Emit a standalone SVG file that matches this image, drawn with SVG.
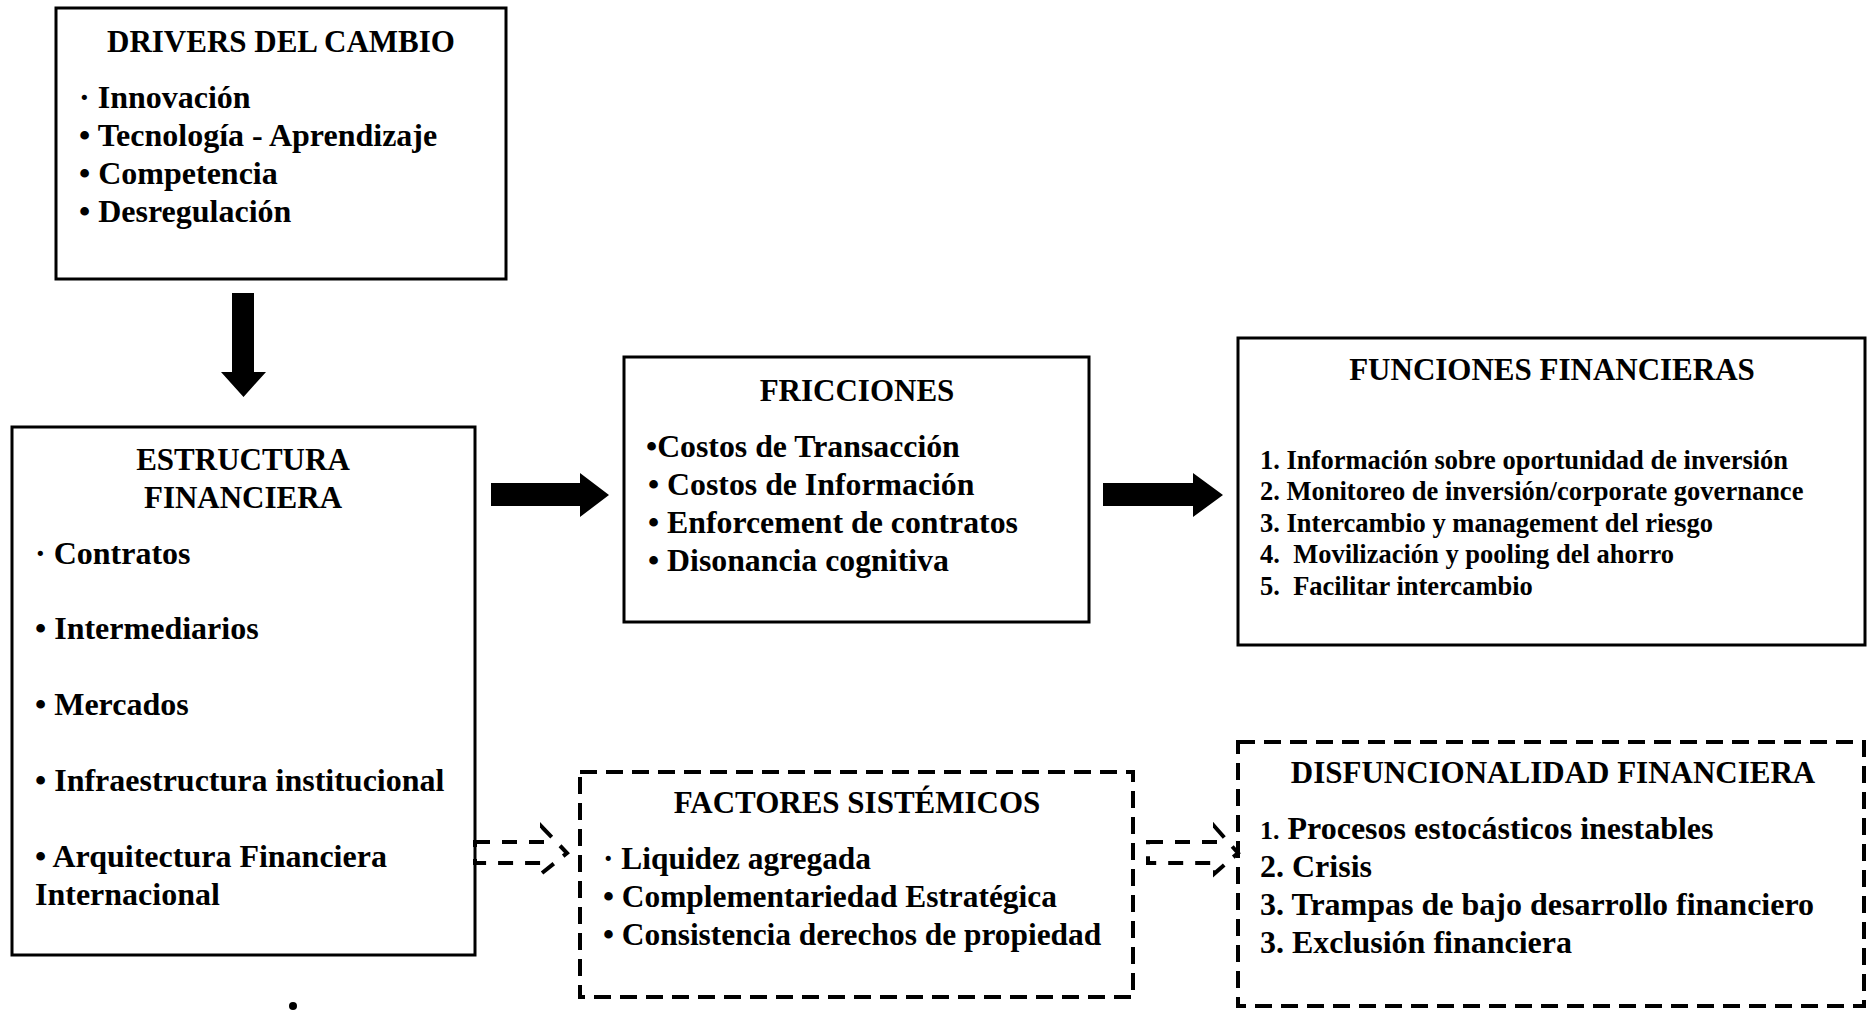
<svg xmlns="http://www.w3.org/2000/svg" width="1868" height="1010" viewBox="0 0 1868 1010">
<style>
text{font-family:"Liberation Serif","Times New Roman",serif;font-weight:bold;fill:#000}
.t{font-size:31px;text-anchor:middle}
.i{font-size:32px}
.f{font-size:31.8px}
.g{font-size:31.4px}
.s{font-size:26.5px}
.box{fill:#fff;stroke:#000;stroke-width:3}
.dbox{fill:#fff;stroke:#000;stroke-width:4;stroke-dasharray:17 9}
.blk{fill:#000;stroke:none}
.darr{fill:none;stroke:#000;stroke-width:4;stroke-dasharray:15 12}
</style>
<rect width="1868" height="1010" fill="#fff"/>
<g id="drivers">
<rect class="box" x="56" y="8" width="450" height="271"/>
<text class="t" x="281" y="52">DRIVERS DEL CAMBIO</text>
<text class="i" x="79" y="108">· Innovación</text>
<text class="i" x="79" y="146">• Tecnología - Aprendizaje</text>
<text class="i" x="79" y="184">• Competencia</text>
<text class="i" x="79" y="222">• Desregulación</text>
</g>
<g id="estructura">
<rect class="box" x="12" y="427" width="463" height="528"/>
<text class="t" x="243" y="470">ESTRUCTURA</text>
<text class="t" x="243" y="508">FINANCIERA</text>
<text class="i" x="35" y="564">· Contratos</text>
<text class="i" x="35" y="639">• Intermediarios</text>
<text class="i" x="35" y="715">• Mercados</text>
<text class="i" x="35" y="791">• Infraestructura institucional</text>
<text class="i" x="35" y="867">• Arquitectura Financiera</text>
<text class="i" x="35" y="905">Internacional</text>
</g>
<g id="fricciones">
<rect class="box" x="624" y="357" width="465" height="265"/>
<text class="t" x="857" y="401">FRICCIONES</text>
<text class="f" x="646" y="457">•Costos de Transacción</text>
<text class="f" x="648" y="495">• Costos de Información</text>
<text class="f" x="648" y="533">• Enforcement de contratos</text>
<text class="f" x="648" y="571">• Disonancia cognitiva</text>
</g>
<g id="funciones">
<rect class="box" x="1238" y="338" width="627" height="307"/>
<text class="t" x="1552" y="380">FUNCIONES FINANCIERAS</text>
<text class="s" x="1260" y="469">1. Información sobre oportunidad de inversión</text>
<text class="s" x="1260" y="500">2. Monitoreo de inversión/corporate governance</text>
<text class="s" x="1260" y="532">3. Intercambio y management del riesgo</text>
<text class="s" x="1260" y="563" xml:space="preserve">4.  Movilización y pooling del ahorro</text>
<text class="s" x="1260" y="595" xml:space="preserve">5.  Facilitar intercambio</text>
</g>
<g id="factores">
<rect class="dbox" x="580" y="772" width="553" height="225"/>
<text class="t" x="857" y="813">FACTORES SISTÉMICOS</text>
<text class="g" x="603" y="869">· Liquidez agregada</text>
<text class="g" x="603" y="907">• Complementariedad Estratégica</text>
<text class="g" x="603" y="945">• Consistencia derechos de propiedad</text>
</g>
<g id="disfuncionalidad">
<rect class="dbox" x="1238" y="742" width="626" height="264"/>
<text class="t" x="1553" y="783">DISFUNCIONALIDAD FINANCIERA</text>
<text class="i" x="1260" y="839"><tspan font-size="26">1.</tspan> Procesos estocásticos inestables</text>
<text class="i" x="1260" y="877">2. Crisis</text>
<text class="i" x="1260" y="915">3. Trampas de bajo desarrollo financiero</text>
<text class="i" x="1260" y="953">3. Exclusión financiera</text>
</g>
<g id="connectors">
<polygon class="blk" points="232,293 254,293 254,372 266,372 243.5,397 221,372 232,372"/>
<polygon class="blk" points="491,483 580,483 580,473 609,495 580,517 580,506 491,506"/>
<polygon class="blk" points="1103,483 1193,483 1193,473 1223,495 1193,517 1193,506 1103,506"/>
<path class="darr" d="M475,842 H542 V827 L567,853 L542,873 V863 H475 Z"/>
<path class="darr" d="M1148,842 H1215 V827 L1238,853 L1215,873 V863 H1148 Z"/>
</g>
<circle cx="293" cy="1006" r="4" fill="#000"/>
</svg>
